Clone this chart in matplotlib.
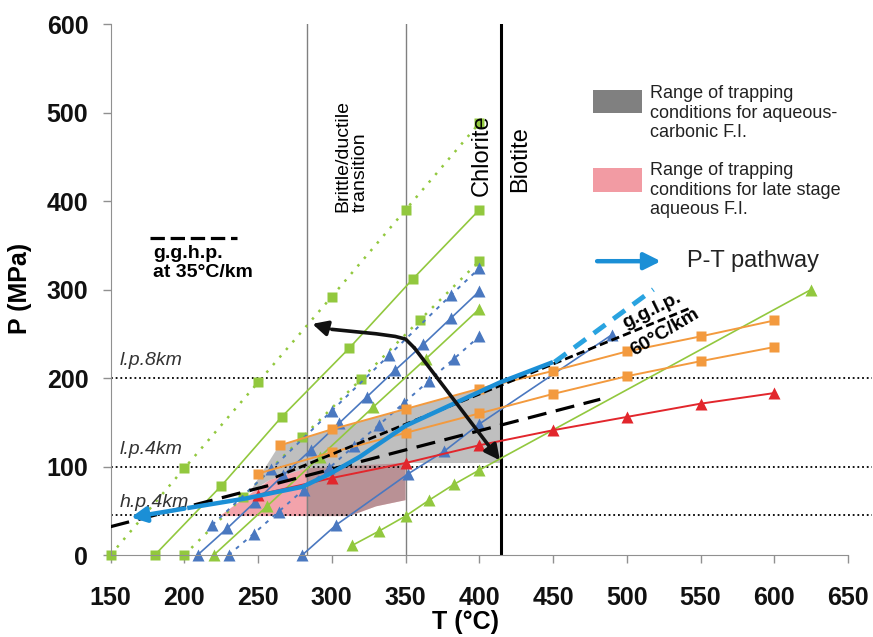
import numpy as np
import matplotlib.pyplot as plt
from matplotlib.patches import Polygon, Rectangle

plt.rcParams['font.family'] = ['Liberation Sans', 'DejaVu Sans']

# --- data (T in degC, P in MPa) ---
# green squares
gsq_dot1_T = [150, 200, 250, 300, 350, 400]
gsq_dot1_P = [0, 98, 195, 292, 390, 488]
gsq_solid_T = [180, 225, 266, 312, 355, 400]
gsq_solid_P = [0, 78, 156, 234, 312, 390]
gsq_dot2_T = [200, 240, 280, 320, 360, 400]
gsq_dot2_P = [0, 66, 133, 199, 266, 332]
# green triangles
gtr_a_T = [220, 256, 292, 328, 364, 400]
gtr_a_P = [0, 55, 111, 167, 222, 278]
gtr_b_T = [314, 332, 350, 366, 383, 400, 625]
gtr_b_P = [11, 27, 44, 62, 80, 96, 300]
# blue triangles
btr_s1_T = [209, 229, 248, 267, 286, 305, 324, 343, 362, 381, 400]
btr_s1_P = [0, 30, 60, 90, 119, 149, 179, 209, 238, 268, 298]
btr_d1_T = [219, 259, 300, 339, 381, 400]
btr_d1_P = [34, 97, 163, 226, 294, 324]
btr_d2_T = [230, 247, 264, 281, 298, 315, 332, 349, 366, 383, 400]
btr_d2_P = [0, 24, 49, 74, 98, 123, 147, 172, 197, 222, 247]
btr_s2_T = [280, 303, 352, 376, 400, 490]
btr_s2_P = [0, 34, 92, 117, 148, 249]
# orange squares
osq1_T = [265, 300, 350, 400, 450, 500, 550, 600]
osq1_P = [124, 142, 165, 188, 208, 230, 247, 265]
osq2_T = [250, 300, 350, 400, 450, 500, 550, 600]
osq2_P = [92, 116, 138, 160, 182, 202, 219, 235]
# red triangles
rtr_T = [250, 300, 350, 400, 450, 500, 550, 600]
rtr_P = [68, 87, 104, 124, 141, 156, 171, 183]

# geotherms
gghp_T = [150, 482]
gghp_P = [32, 176]
gglp_T = [262, 543]
gglp_P = [88, 279]
pt_ext_T = [451, 518]
pt_ext_P = [218, 300]

# P-T pathway (drawn from high T to low T)
path_T = [450, 414, 350, 319, 299, 280, 262, 242, 202, 162]
path_P = [218, 195, 146, 111, 92, 77, 71, 64, 53, 42]

# black double arrow
barrow_T = [285, 300, 330, 343, 350, 356, 414]
barrow_P = [262, 255, 250, 247, 244, 234, 107]

# trapping-condition fields
gray_T = [244, 264, 300, 350, 400, 415, 415, 350, 350, 330, 312, 283, 283, 258]
gray_P = [70, 123, 142, 165, 188, 194, 104, 104, 62, 55, 44, 44, 98, 85]
pink_T = [224, 312, 330, 350, 350, 283, 258]
pink_P = [44, 44, 55, 62, 104, 98, 85]

# reference lines
hlines_P = [200, 100, 45]
hline_labels = ['l.p.8km', 'l.p.4km', 'h.p.4km']
hline_label_P = [220, 119, 59]
brittle_T = [283, 350]
biotite_T = 415

green = '#92C83E'
blue = '#4A78C0'
orange = '#F39A3E'
red = '#E2262C'
skyblue = '#1B8FD6'

fig = plt.figure(figsize=(8.73, 6.37), dpi=100)
ax = fig.add_axes([0.1266, 0.1287, 0.8448, 0.8336])

# fields
ax.add_patch(Polygon(list(zip(pink_T, pink_P)), closed=True, fc='#F08C96', ec='none', alpha=0.8, zorder=1))
ax.add_patch(Polygon(list(zip(gray_T, gray_P)), closed=True, fc='#808080', ec='none', alpha=0.5, zorder=1.2))

# reference lines
for p in hlines_P:
    ax.plot([150, 666], [p, p], color='black', ls=(0, (1, 1.6)), lw=1.3, clip_on=False, zorder=1.5)
for lab, p in zip(hline_labels, hline_label_P):
    ax.text(156.5, p, lab, fontsize=14, style='italic', va='center', ha='left', color='#333333')
for t in brittle_T:
    ax.plot([t, t], [0, 600], color='#808080', lw=1.0, zorder=1.5)
ax.plot([biotite_T, biotite_T], [0, 600], color='black', lw=2.2, zorder=1.5)

msq = dict(marker='s', ms=7, mec='none', clip_on=False)
mtr = dict(marker='^', ms=8, mec='none', clip_on=False)

ax.plot(gsq_dot1_T, gsq_dot1_P, color=green, ls=(0, (1, 3)), lw=1.8, **msq)
ax.plot(gsq_solid_T, gsq_solid_P, color=green, lw=1.2, **msq)
ax.plot(gsq_dot2_T, gsq_dot2_P, color=green, ls=(0, (1, 3)), lw=1.8, **msq)
ax.plot(gtr_a_T, gtr_a_P, color=green, lw=1.2, **mtr)
ax.plot(gtr_b_T, gtr_b_P, color=green, lw=1.2, **mtr)

ax.plot(btr_s1_T, btr_s1_P, color=blue, lw=1.2, **mtr)
ax.plot(btr_d1_T, btr_d1_P, color=blue, ls=(0, (2, 3)), lw=1.4, **mtr)
ax.plot(btr_d2_T, btr_d2_P, color=blue, ls=(0, (2, 3)), lw=1.4, **mtr)
ax.plot(btr_s2_T, btr_s2_P, color=blue, lw=1.2, **mtr)

ax.plot(osq1_T, osq1_P, color=orange, lw=1.4, **msq)
ax.plot(osq2_T, osq2_P, color=orange, lw=1.4, **msq)
ax.plot(rtr_T, rtr_P, color=red, lw=1.4, **mtr)

# geotherms
ax.plot(gghp_T, gghp_P, color='black', ls=(0, (6, 3)), lw=2.3, zorder=4)
ax.plot(gglp_T, gglp_P, color='black', ls=(0, (3, 1.5)), lw=2.0, zorder=4)
ax.plot(pt_ext_T, pt_ext_P, color='#29A3E0', ls=(0, (3, 2)), lw=3.5, zorder=4)

# P-T pathway
ax.plot(path_T[:-1], path_P[:-1], color=skyblue, lw=3.2, zorder=5, solid_capstyle='butt')
ax.annotate('', xy=(path_T[-1], path_P[-1]), xytext=(path_T[-2], path_P[-2]),
            arrowprops=dict(arrowstyle='-|>,head_length=0.9,head_width=0.45', color=skyblue, lw=3.2), zorder=5)

# black arrow
ax.plot(barrow_T[1:-1], barrow_P[1:-1], color='#111111', lw=2.6, zorder=6, solid_capstyle='round',
        solid_joinstyle='round')
ax.annotate('', xy=(barrow_T[0], barrow_P[0]), xytext=(barrow_T[1], barrow_P[1]),
            arrowprops=dict(arrowstyle='-|>,head_length=0.9,head_width=0.45', color='#111111', lw=2.6), zorder=6)
ax.annotate('', xy=(barrow_T[-1], barrow_P[-1]), xytext=(barrow_T[-2], barrow_P[-2]),
            arrowprops=dict(arrowstyle='-|>,head_length=0.9,head_width=0.45', color='#111111', lw=2.6,
                            shrinkA=0, shrinkB=0), zorder=6)

# annotations
ax.text(313.6, 451, 'Brittle/ductile\ntransition', rotation=90, fontsize=14, ha='center', va='center',
        multialignment='left', linespacing=1.05)
ax.text(402, 452, 'Chlorite', rotation=90, fontsize=17, ha='center', va='center')
ax.text(427.5, 447, 'Biotite', rotation=90, fontsize=17, ha='center', va='center')

ax.plot([177, 236], [358, 358], color='black', ls=(0, (4.5, 1.8)), lw=2.3)
ax.text(179, 350, 'g.g.h.p.\nat 35°C/km', fontsize=14, fontweight='bold', va='top', ha='left', linespacing=1.1)

ax.text(516.7, 275.7, 'g.g.l.p.', fontsize=14, fontweight='bold', rotation=26, ha='center', va='center',
        rotation_mode='anchor', zorder=7)
ax.text(525.7, 252, '60°C/km', fontsize=14, fontweight='bold', rotation=31, ha='center', va='center',
        rotation_mode='anchor', zorder=7)

# legend
ax.add_patch(Rectangle((477, 499), 33, 26, fc='#808080', ec='none'))
ax.add_patch(Rectangle((477, 410), 33, 27, fc='#F29BA3', ec='none'))
ax.text(515.5, 531, 'Range of trapping\nconditions for aqueous-\ncarbonic F.I.', fontsize=13, va='top', ha='left',
        color='#222222')
ax.text(515.5, 444, 'Range of trapping\nconditions for late stage\naqueous F.I.', fontsize=13, va='top', ha='left',
        color='#222222')
ax.annotate('', xy=(525, 332), xytext=(478, 332),
            arrowprops=dict(arrowstyle='-|>,head_length=1.0,head_width=0.5', color=skyblue, lw=3.2))
ax.text(541, 332, 'P-T pathway', fontsize=17, va='center', ha='left', color='#222222')

ax.set_xlim(150, 650)
ax.set_ylim(0, 600)
ax.set_xticks(np.arange(150, 651, 50))
ax.set_yticks(np.arange(0, 601, 100))
for side in ['top', 'right']:
    ax.spines[side].set_visible(False)
for side in ['left', 'bottom']:
    ax.spines[side].set_color('#909090')
ax.tick_params(colors='#909090', length=6, width=1)
ax.tick_params(axis='x', pad=16)
ax.tick_params(axis='y', pad=10)
for lbl in ax.get_xticklabels() + ax.get_yticklabels():
    lbl.set_fontsize(18)
    lbl.set_fontweight('bold')
    lbl.set_color('#111111')

fig.text(20 / 873, 1 - 288 / 637, 'P (MPa)', rotation=90, fontsize=18, fontweight='bold', ha='center', va='center')
fig.text(466 / 873, 1 - 622 / 637, 'T (°C)', fontsize=18, fontweight='bold', ha='center', va='center')

fig.savefig('out.png', dpi=100)
